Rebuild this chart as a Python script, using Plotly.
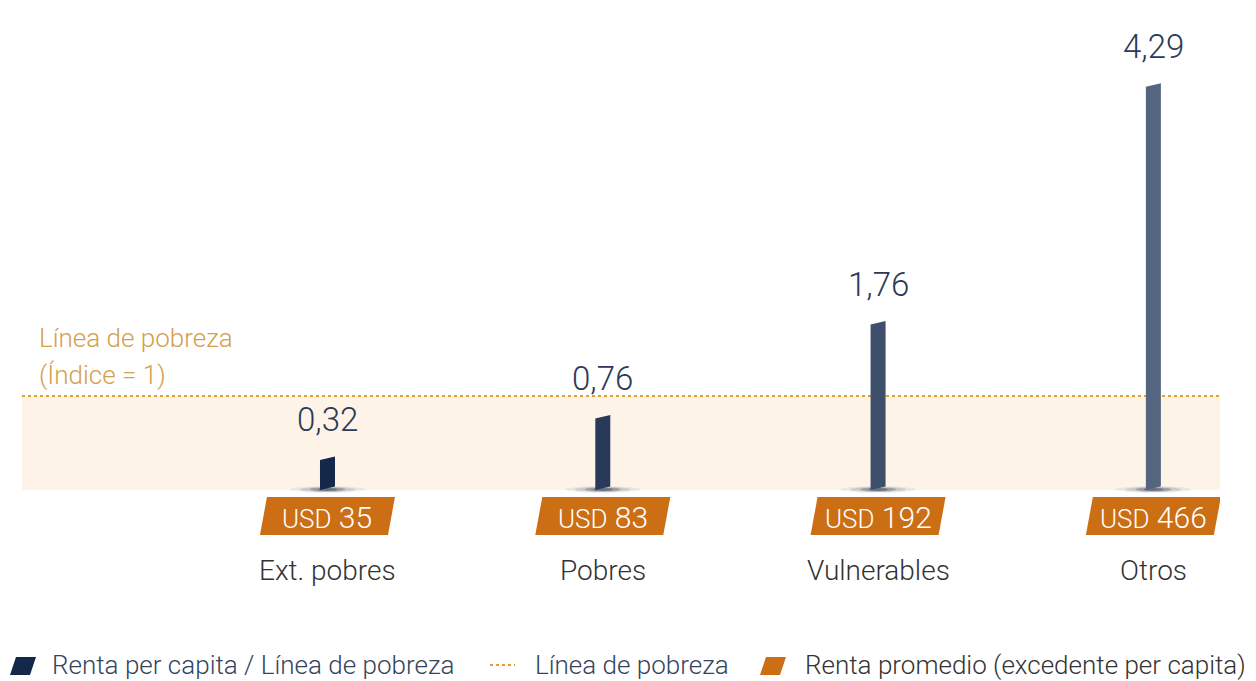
import plotly.graph_objects as go

# ---------------- data ----------------
categories = ["Ext. pobres", "Pobres", "Vulnerables", "Otros"]
ratio_values = [0.32, 0.76, 1.76, 4.29]
ratio_labels = ["0,32", "0,76", "1,76", "4,29"]
income_usd = [35, 83, 192, 466]
poverty_line = 1
bar_colors = ["#14284a", "#29395a", "#3e4f6c", "#56657f"]

legend_labels = ["Renta per capita / Línea de pobreza", "Línea de pobreza",
                 "Renta promedio (excedente per capita)"]

# ---------------- styling / geometry ----------------
FONT = "Roboto"
ORANGE = "#cc6e14"
DOT = "#e39e32"
BAND = "#fdf3e7"
GOLD = "#d4a04c"

L, R, T, B = 22, 36, 10, 136
W_PX, H_PX = 1256, 681
plot_w = W_PX - L - R
plot_h = H_PX - T - B
XMIN, XMAX = -1.1097, 3.242
PX_PER_Y = 94.0
y_zero_px = 490
YMAX = (y_zero_px - T) / PX_PER_Y
YMIN = -(H_PX - B - y_zero_px) / PX_PER_Y
px_per_x = plot_w / (XMAX - XMIN)


def px_to_paper(px, py):
    return (px - L) / plot_w, (H_PX - B - py) / plot_h


fig = go.Figure()

# bars as parallelograms (slanted top/bottom)
half_w = 7.5 / px_per_x
slant = 3.5 / PX_PER_Y
for i, v in enumerate(ratio_values):
    fig.add_trace(go.Scatter(
        x=[i - half_w, i + half_w, i + half_w, i - half_w, i - half_w],
        y=[0, slant, v + slant, v, 0],
        fill="toself", fillcolor=bar_colors[i], mode="lines",
        line=dict(width=0, color=bar_colors[i]), hoverinfo="skip", showlegend=False))

shapes = []
# poverty band and dotted line
shapes.append(dict(type="rect", xref="x", yref="y", x0=XMIN, x1=XMAX, y0=0, y1=poverty_line,
                   fillcolor=BAND, line=dict(width=0), layer="below"))
shapes.append(dict(type="line", xref="x", yref="y", x0=XMIN, x1=XMAX, y0=poverty_line, y1=poverty_line,
                   line=dict(color=DOT, width=2, dash="dot"), layer="below"))

# shadows under bars
for i in range(len(categories)):
    for hw, hh, op in [(38, 3.2, 0.07), (28, 2.6, 0.14), (18, 2.0, 0.28), (10, 1.5, 0.4)]:
        shapes.append(dict(type="circle", xref="x", yref="y",
                           x0=i - hw / px_per_x, x1=i + hw / px_per_x,
                           y0=-(hh - 0.5) / PX_PER_Y, y1=(hh + 0.5) / PX_PER_Y,
                           fillcolor="#1b2a45", opacity=op, line=dict(width=0), layer="below"))

# orange USD boxes (parallelograms)
box_half = 64 / px_per_x
box_sl = 3.5 / px_per_x
by0 = (y_zero_px - 535) / PX_PER_Y
by1 = (y_zero_px - 497) / PX_PER_Y
for i in range(len(categories)):
    path = (f"M {i - box_half - box_sl},{by0} L {i + box_half - box_sl},{by0} "
            f"L {i + box_half + box_sl},{by1} L {i - box_half + box_sl},{by1} Z")
    shapes.append(dict(type="path", xref="x", yref="y", path=path,
                       fillcolor=ORANGE, line=dict(width=0), layer="above"))

annotations = []
_, cat_y = px_to_paper(0, 570)
for i, (v, lab) in enumerate(zip(ratio_values, ratio_labels)):
    annotations.append(dict(x=i, y=v, xref="x", yref="y", text=lab, showarrow=False,
                            xanchor="center", yanchor="middle", yshift=40,
                            font=dict(family=FONT, size=33, color="#2a3a58", weight=300)))
    annotations.append(dict(x=i, y=(y_zero_px - 517) / PX_PER_Y, xref="x", yref="y",
                            text=f"<span style='font-size:26px'>USD</span> {income_usd[i]}",
                            showarrow=False, xanchor="center", yanchor="middle",
                            font=dict(family=FONT, size=30, color="white", weight=300)))
    annotations.append(dict(x=(i - XMIN) / (XMAX - XMIN), y=cat_y, xref="paper", yref="paper",
                            text=categories[i], showarrow=False, xanchor="center", yanchor="middle",
                            font=dict(family=FONT, size=28, color="#333333", weight=300)))

# left label of the poverty line
lx, ly1 = px_to_paper(37, 338)
_, ly2 = px_to_paper(37, 375)
annotations.append(dict(x=lx, y=ly1, xref="paper", yref="paper", text="Línea de pobreza",
                        showarrow=False, xanchor="left", yanchor="middle",
                        font=dict(family=FONT, size=26, color=GOLD, weight=300)))
annotations.append(dict(x=lx, y=ly2, xref="paper", yref="paper", text="(Índice = 1)",
                        showarrow=False, xanchor="left", yanchor="middle",
                        font=dict(family=FONT, size=26, color=GOLD, weight=300)))

# ---------------- custom legend ----------------
leg_y = 665


def para_path(px0, px1, py_top, py_bot, sl):
    a = px_to_paper(px0, py_bot)
    b = px_to_paper(px1 - sl, py_bot)
    c = px_to_paper(px1, py_top)
    d = px_to_paper(px0 + sl, py_top)
    return f"M {a[0]},{a[1]} L {b[0]},{b[1]} L {c[0]},{c[1]} L {d[0]},{d[1]} Z"


shapes.append(dict(type="path", xref="paper", yref="paper",
                   path=para_path(10, 36, 657, 675, 6), fillcolor="#14284a", line=dict(width=0)))
lp0 = px_to_paper(490, leg_y)
lp1 = px_to_paper(515, leg_y)
shapes.append(dict(type="line", xref="paper", yref="paper", x0=lp0[0], x1=lp1[0], y0=lp0[1], y1=lp1[1],
                   line=dict(color=DOT, width=2, dash="dot")))
shapes.append(dict(type="path", xref="paper", yref="paper",
                   path=para_path(760, 786, 657, 675, 6), fillcolor=ORANGE, line=dict(width=0)))

for px, txt, col in [(50, legend_labels[0], "#34445f"), (533, legend_labels[1], "#34445f"),
                     (803, legend_labels[2], "#333333")]:
    p = px_to_paper(px, leg_y)
    annotations.append(dict(x=p[0], y=p[1], xref="paper", yref="paper", text=txt, showarrow=False,
                            xanchor="left", yanchor="middle",
                            font=dict(family=FONT, size=26, color=col, weight=300)))

fig.update_layout(
    width=W_PX, height=H_PX,
    margin=dict(l=L, r=R, t=T, b=B, pad=0),
    paper_bgcolor="white", plot_bgcolor="white",
    showlegend=False,
    xaxis=dict(range=[XMIN, XMAX], visible=False, fixedrange=True),
    yaxis=dict(range=[YMIN, YMAX], visible=False, fixedrange=True),
    shapes=shapes, annotations=annotations,
)

fig.write_html("out.html", config={"displayModeBar": False},
               post_script="document.body.style.margin='0';document.body.style.overflow='hidden';")
